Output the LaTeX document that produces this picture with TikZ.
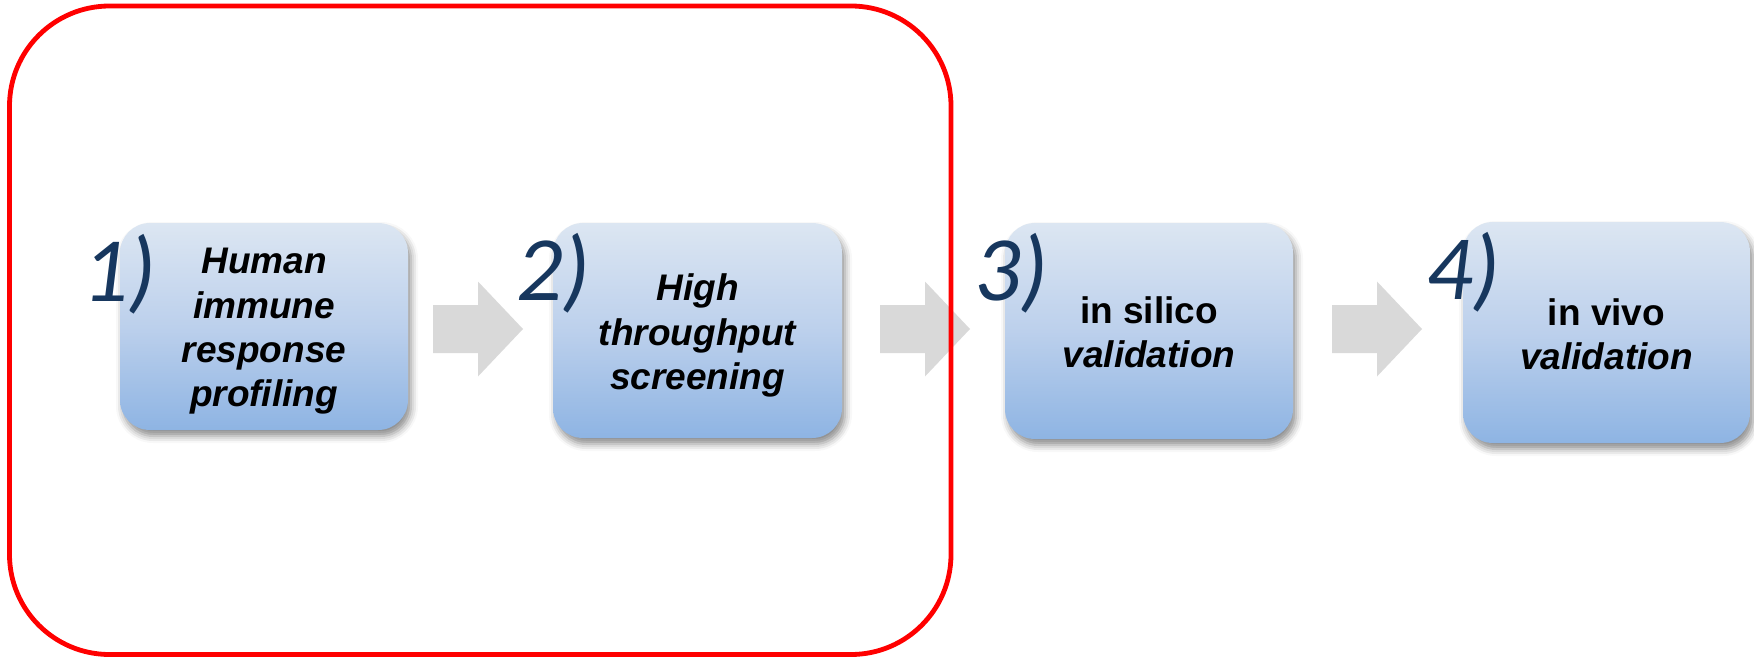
\documentclass[tikz,border=0pt]{standalone}
\usepackage{fontspec}
\setmainfont{Liberation Sans}
\newfontfamily\numfont{Carlito}
\usetikzlibrary{shadows.blur}
\definecolor{boxtop}{HTML}{DCE6F2}
\definecolor{boxmid}{HTML}{BCD0EC}
\definecolor{boxbot}{HTML}{8EB4E3}
\definecolor{arrowgray}{HTML}{D9D9D9}
\definecolor{numblue}{HTML}{17375E}
\definecolor{framered}{HTML}{FF0000}
\tikzset{
  stepbox/.style={rectangle, rounded corners=30pt, top color=boxtop, bottom color=boxbot, middle color=boxmid,
    inner sep=0pt,
    blur shadow={shadow xshift=3pt, shadow yshift=-6pt, shadow blur radius=7pt, shadow opacity=45}},
  steptext/.style={align=center, font=\fontsize{37}{44.4}\selectfont\bfseries, text=black, inner sep=0pt},
  numlabel/.style={anchor=base west, inner sep=0pt, text=numblue, font=\numfont\itshape\fontsize{92}{92}\selectfont},
  blockarrow/.pic={\fill[arrowgray] (-45,-24) -- (0,-24) -- (0,-47.5) -- (45,0) -- (0,47.5) -- (0,24) -- (-45,24) -- cycle;},
  redframe/.style={draw=framered, line width=4.8pt, rounded corners=100pt}
}
\begin{document}
\begin{tikzpicture}[x=1pt, y=-1pt]
\useasboundingbox (0,0) rectangle (1754,658);
% step boxes
\node[stepbox, minimum width=288pt, minimum height=207pt] (b1) at (264,326.5) {};
\node[stepbox, minimum width=289pt, minimum height=215pt] (b2) at (697.5,330.5) {};
\node[stepbox, minimum width=288pt, minimum height=216pt] (b3) at (1149,331) {};
\node[stepbox, minimum width=287pt, minimum height=221pt] (b4) at (1606.5,332.5) {};
% texts
\node[steptext] (t1) at ([yshift=-5pt]b1.center)
  {\itshape Human\\\itshape immune\\\itshape response\\\itshape profiling};
\node[steptext] (t2) at ([yshift=-5pt]b2.center)
  {\itshape High\\\itshape throughput\\\itshape screening};
\node[steptext] (t3) at ([yshift=-1pt]b3.center)
  {in silico\\\itshape validation};
\node[steptext] (t4) at ([yshift=-1.5pt]b4.center)
  {in vivo\\\itshape validation};
% block arrows
\pic at (478,329) {blockarrow};
\pic at (925,329) {blockarrow};
\pic at (1377,329) {blockarrow};
% numbers
\node[numlabel] (n1) at (82,301) {1)};
\node[numlabel] (n2) at (516,300) {2)};
\node[numlabel] (n3) at (974,300) {3)};
\node[numlabel] (n4) at (1426,299) {4)};
% red frame
\draw[redframe] (9.5,6) rectangle (951,654.5);
\end{tikzpicture}
\end{document}
